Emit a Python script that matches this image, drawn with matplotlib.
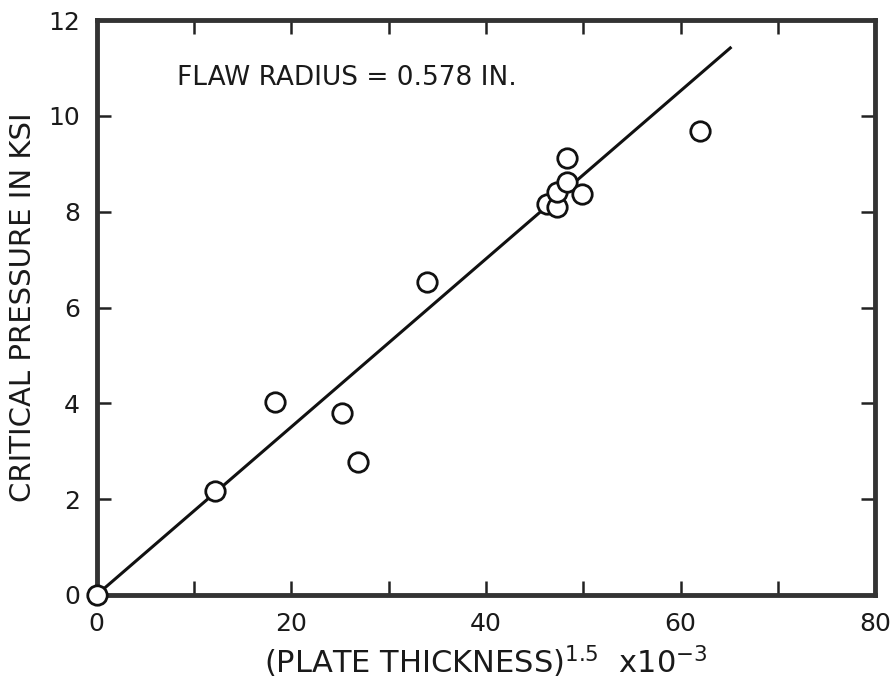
import matplotlib
matplotlib.use("Agg")
import matplotlib.pyplot as plt
from matplotlib.ticker import MultipleLocator

# (plate thickness)^1.5 x 10^-3  vs  critical pressure (ksi)
thick = [0.0, 12.2, 18.3, 25.2, 26.9, 33.9, 46.3, 47.3, 47.3, 48.3, 48.3, 49.9, 62.0]
press = [0.0, 2.17, 4.02, 3.80, 2.78, 6.54, 8.17, 8.10, 8.42, 8.62, 9.13, 8.37, 9.68]

fit_x = [0.0, 65.1]
fit_y = [0.0, 11.42]


def main():
    plt.rcParams['font.family'] = ['DejaVu Sans']
    fig = plt.figure(figsize=(8.95, 6.95), dpi=100)
    ax = fig.add_axes([0.108, 0.144, 0.870, 0.827])

    ax.plot(fit_x, fit_y, '-', color='#111111', lw=2.2, zorder=2)
    ax.plot(thick, press, 'o', ms=14, mfc='white', mec='#111111', mew=2.0,
            clip_on=False, zorder=3)

    ax.set_xlim(0, 80)
    ax.set_ylim(0, 12)
    ax.xaxis.set_major_locator(MultipleLocator(20))
    ax.xaxis.set_minor_locator(MultipleLocator(10))
    ax.yaxis.set_major_locator(MultipleLocator(2))

    ax.tick_params(which='both', direction='in', top=True, right=True,
                   width=1.8, color='#222222', labelsize=18, labelcolor='#1a1a1a')
    ax.tick_params(which='major', length=10)
    ax.tick_params(which='minor', length=10)
    ax.tick_params(axis='x', pad=12)
    ax.tick_params(axis='y', pad=12)

    for s in ax.spines.values():
        s.set_linewidth(3.5)
        s.set_color('#333333')

    ax.text(8.3, 10.8, 'FLAW RADIUS = 0.578 IN.', fontsize=19, color='#1a1a1a',
            va='center', ha='left')

    ax.set_xlabel(r'(PLATE THICKNESS)$^{1.5}$  x10$^{-3}$', fontsize=22,
                  color='#1a1a1a', labelpad=6)
    ax.set_ylabel('CRITICAL PRESSURE IN KSI', fontsize=21, color='#1a1a1a',
                  labelpad=8)

    fig.savefig('out.png', dpi=100)


if __name__ == "__main__":
    main()
